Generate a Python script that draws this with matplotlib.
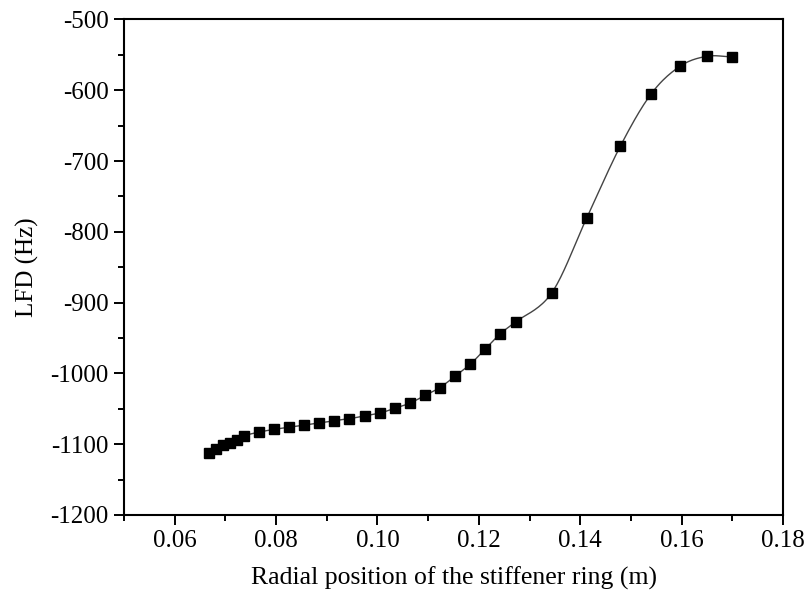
import numpy as np
import matplotlib.pyplot as plt
from matplotlib.ticker import MultipleLocator, FormatStrFormatter

plt.rcParams['font.family'] = ['Liberation Serif', 'DejaVu Serif']
plt.rcParams['axes.unicode_minus'] = False

# radial position of the stiffener ring (m)
radius = [0.0668, 0.0682, 0.0695, 0.0709, 0.0723, 0.0737, 0.0766, 0.0796,
          0.0826, 0.0855, 0.0885, 0.0914, 0.0944, 0.0975, 0.1005, 0.1035,
          0.1064, 0.1094, 0.1123, 0.1153, 0.1183, 0.1212, 0.1242, 0.1273,
          0.1344, 0.1413, 0.1479, 0.1540, 0.1597, 0.1650, 0.1699]
# LFD (Hz)
lfd = [-1113, -1107, -1101, -1098, -1094, -1088, -1083, -1079,
       -1076, -1073, -1070, -1067, -1064, -1060, -1056, -1049,
       -1042, -1031, -1020, -1004, -987, -966, -944, -927,
       -886, -780, -679, -605, -566, -552, -553]


def smooth(x, y, n=20):
    # catmull-rom curve through the points
    x = np.asarray(x, float)
    y = np.asarray(y, float)
    px = np.concatenate([[2 * x[0] - x[1]], x, [2 * x[-1] - x[-2]]])
    py = np.concatenate([[2 * y[0] - y[1]], y, [2 * y[-1] - y[-2]]])
    xs, ys = [], []
    t = np.linspace(0, 1, n, endpoint=False)
    for i in range(1, len(px) - 2):
        for p, out in ((px, xs), (py, ys)):
            p0, p1, p2, p3 = p[i - 1], p[i], p[i + 1], p[i + 2]
            out.extend(0.5 * (2 * p1 + (-p0 + p2) * t
                              + (2 * p0 - 5 * p1 + 4 * p2 - p3) * t ** 2
                              + (-p0 + 3 * p1 - 3 * p2 + p3) * t ** 3))
    xs.append(x[-1])
    ys.append(y[-1])
    return np.array(xs), np.array(ys)


fig = plt.figure(figsize=(8.09, 6.01), dpi=100)
ax = fig.add_axes([0.1533, 0.1431, 0.8146, 0.8245])

sx, sy = smooth(radius, lfd)
ax.plot(sx, sy, color='#444444', lw=1.0)
ax.plot(radius, lfd, 's', color='black', ms=7)

ax.set_xlim(0.05, 0.18)
ax.set_ylim(-1200, -500)
ax.xaxis.set_major_locator(MultipleLocator(0.02))
ax.xaxis.set_minor_locator(MultipleLocator(0.01))
ax.yaxis.set_major_locator(MultipleLocator(100))
ax.yaxis.set_minor_locator(MultipleLocator(50))
ax.xaxis.set_major_formatter(FormatStrFormatter('%.2f'))
ax.set_xticks([0.06, 0.08, 0.10, 0.12, 0.14, 0.16, 0.18])

ax.tick_params(which='major', direction='out', length=7, width=1.4,
               labelsize=18, top=False, right=False, pad=4)
ax.tick_params(which='minor', direction='out', length=4, width=1.4,
               top=False, right=False)
for s in ax.spines.values():
    s.set_linewidth(1.5)

ax.set_xlabel('Radial position of the stiffener ring (m)', fontsize=18.5, labelpad=10)
ax.set_ylabel('LFD (Hz)', fontsize=18, labelpad=8)

fig.savefig('out.png', dpi=100)
